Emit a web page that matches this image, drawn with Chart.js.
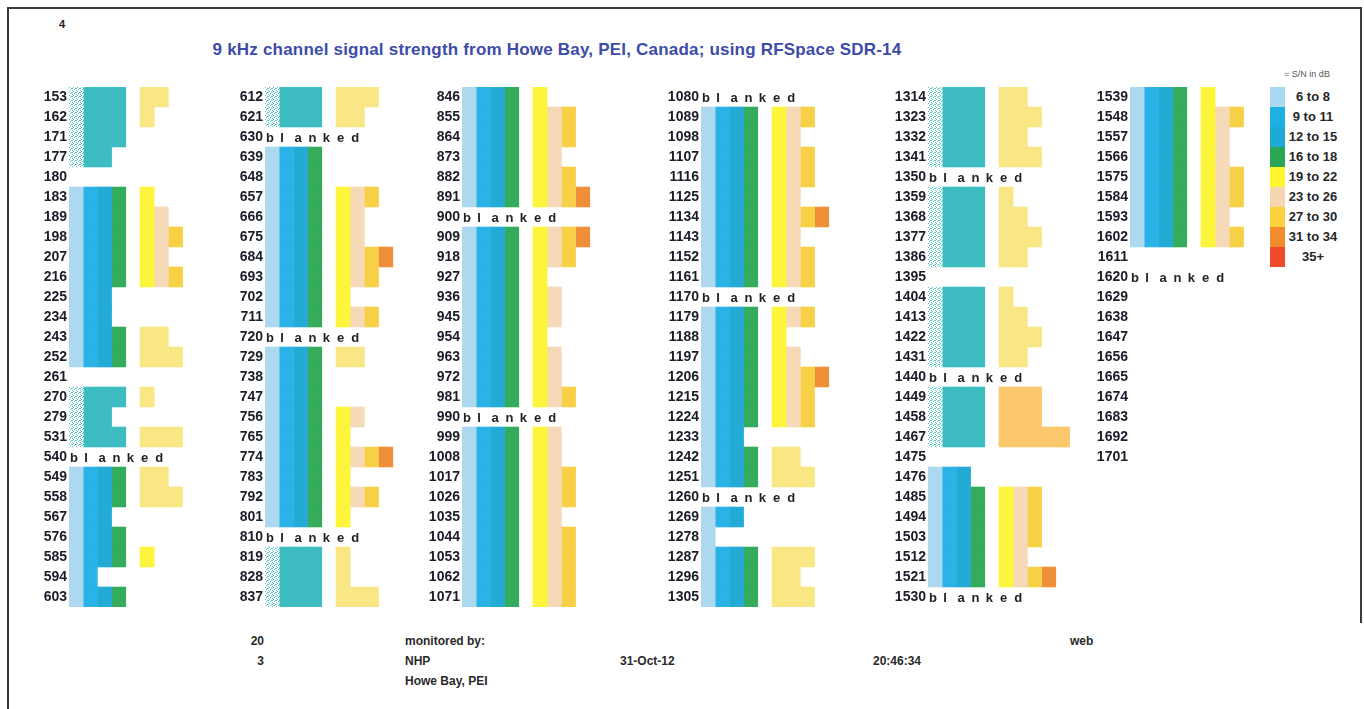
<!DOCTYPE html>
<html>
<head>
<meta charset="utf-8">
<script src="https://cdn.jsdelivr.net/npm/chart.js@4.4.0/dist/chart.umd.min.js"></script>
<style>
body { margin: 0; background: #fff; font-family: "Liberation Sans", Arial, sans-serif; }
#page { position: relative; width: 1364px; height: 709px; overflow: hidden; }
.abs { position: absolute; white-space: nowrap; }
.foot { font-size: 12px; font-weight: bold; color: #2a2a2a; line-height: 14px; }
.sw { position: absolute; left: 1270px; width: 15px; height: 20px; }
.lg { position: absolute; left: 1284px; width: 58px; height: 20px; line-height: 20px; text-align: center; font-size: 13px; font-weight: bold; color: #262626; }
</style>
</head>
<body>
<div id="page">
  <div class="abs" style="left:7px;top:7px;width:1355px;height:2px;background:#3a3a3a"></div>
  <div class="abs" style="left:7px;top:7px;width:2px;height:702px;background:#3a3a3a"></div>
  <div class="abs" style="left:1360px;top:7px;width:2px;height:616px;background:#3a3a3a"></div>

  <div class="abs" style="left:59px;top:18px;font-size:11px;font-weight:bold;color:#222">4</div>
  <div class="abs" style="left:157px;top:40px;width:800px;text-align:center;font-size:17px;letter-spacing:0.2px;font-weight:bold;color:#3c4ca8">9 kHz channel signal strength from Howe Bay, PEI, Canada; using RFSpace SDR-14</div>

  <div class="abs" style="left:1272px;top:69px;width:70px;text-align:center;font-size:9px;color:#555">= S/N in dB</div>
  <div id="legend"></div>

  <div class="abs foot" style="left:214px;top:634px;width:50px;text-align:right">20</div>
  <div class="abs foot" style="left:214px;top:654px;width:50px;text-align:right">3</div>
  <div class="abs foot" style="left:405px;top:634px">monitored by:</div>
  <div class="abs foot" style="left:405px;top:654px">NHP</div>
  <div class="abs foot" style="left:405px;top:674px">Howe Bay, PEI</div>
  <div class="abs foot" style="left:620px;top:654px">31-Oct-12</div>
  <div class="abs foot" style="left:873px;top:654px">20:46:34</div>
  <div class="abs foot" style="left:1070px;top:634px">web</div>
</div>
<script>
// S/N in dB per channel, null = blanked, 0 = nothing heard
const col1Freq = ['153','162','171','177','180','183','189','198','207','216','225','234','243','252','261','270','279','531','540','549','558','567','576','585','594','603'];
const col1Snr  = [24,20,17,13,0,20,24,28,24,28,13,13,24,28,0,20,13,28,null,24,28,13,17,20,10,17];

const col2Freq = ['612','621','630','639','648','657','666','675','684','693','702','711','720','729','738','747','756','765','774','783','792','801','810','819','828','837'];
const col2Snr  = [28,24,null,17,17,28,24,24,32,28,20,28,null,24,17,17,24,20,32,20,28,20,null,20,20,28];

const col3Freq = ['846','855','864','873','882','891','900','909','918','927','936','945','954','963','972','981','990','999','1008','1017','1026','1035','1044','1053','1062','1071'];
const col3Snr  = [20,28,28,24,28,32,null,32,28,20,24,24,20,24,24,28,null,24,24,28,28,24,28,28,28,28];

const col4Freq = ['1080','1089','1098','1107','1116','1125','1134','1143','1152','1161','1170','1179','1188','1197','1206','1215','1224','1233','1242','1251','1260','1269','1278','1287','1296','1305'];
const col4Snr  = [null,28,24,28,28,24,32,24,28,28,null,28,20,24,32,28,28,13,24,28,null,13,7,28,24,28];

const col5Freq = ['1314','1323','1332','1341','1350','1359','1368','1377','1386','1395','1404','1413','1422','1431','1440','1449','1458','1467','1475','1476','1485','1494','1503','1512','1521','1530'];
const col5Snr  = [24,28,24,28,null,20,24,28,24,0,20,24,28,24,null,28,28,36,0,13,28,28,28,24,32,null];

const col6Freq = ['1539','1548','1557','1566','1575','1584','1593','1602','1611','1620','1629','1638','1647','1656','1665','1674','1683','1692','1701'];
const col6Snr  = [20,28,24,24,28,28,24,28,0,null,0,0,0,0,0,0,0,0,0];

// rows drawn in the older teal style, and rows whose upper part is a washed colour
const tealRows = ['153','162','171','177','270','279','531','612','621','819','828','837','1314','1323','1332','1341','1359','1368','1377','1386','1404','1413','1422','1431','1449','1458','1467'];
const paleRows = ['243','252','549','558','729','1242','1251','1287','1296','1305'];
const warmRows = ['1449','1458','1467'];

const bandLabels = ['6 to 8','9 to 11','12 to 15','16 to 18','19 to 22','23 to 26','27 to 30','31 to 34','35+'];
const bandEdges = [6, 9, 12, 16, 19, 23, 27, 31, 35];

const bandColors = ['#acd8f0','#2ab3e6','#23abd6','#34ac5b','#fdf43c','#f6d9b6','#f8d046','#f08f3a','#ec4b2b'];
const legendColors = ['#a9d8f2','#1fb0e2','#1eaad8','#2aa655','#fdf62e','#f6d6b1','#fbd23c','#f28a2e','#ef4a2a'];
const TEAL = '#3dbcc1', PALE = '#f9e785', WARM = '#fcc86c';

// legend
const lg = document.getElementById('legend');
bandLabels.forEach((t, i) => {
  const s = document.createElement('div');
  s.className = 'sw'; s.style.top = (87 + i * 20) + 'px'; s.style.background = legendColors[i];
  lg.appendChild(s);
  const l = document.createElement('div');
  l.className = 'lg'; l.style.top = (87 + i * 20) + 'px'; l.textContent = t;
  lg.appendChild(l);
});

// dither for the teal rows
const pc = document.createElement('canvas');
pc.width = 4; pc.height = 4;
const pg = pc.getContext('2d');
pg.fillStyle = '#fff'; pg.fillRect(0, 0, 4, 4);
pg.fillStyle = '#5cc3c6';
[[0,0],[2,1],[1,2],[3,3],[3,1]].forEach(p => pg.fillRect(p[0], p[1], 1, 1));
const dither = pg.createPattern(pc, 'repeat');

function bandOf(db) {
  if (db === null) return null;
  return bandEdges.filter(e => db >= e).length;
}

// stack segments: 4 low bands, a gap, 5 high bands
const segNeed = [1, 2, 3, 4, 5, 5, 6, 7, 8, 9];
const segColor = [0, 1, 2, 3, -1, 4, 5, 6, 7, 8];

function colorFor(k, f) {
  if (segColor[k] < 0) return 'rgba(0,0,0,0)';
  const teal = tealRows.includes(f);
  if (k < 4 && teal) return k === 0 ? dither : TEAL;
  if (k >= 5 && (teal || paleRows.includes(f))) return warmRows.includes(f) ? WARM : PALE;
  return bandColors[segColor[k]];
}

const AXIS_W = 40, UNIT = 14.2, TOP = 87, ROW = 20, PAD = 12;

const blankedText = {
  id: 'blankedText',
  afterDatasetsDraw(chart, args, opts) {
    const c = chart.ctx, xs = chart.scales.x, ys = chart.scales.y;
    c.save();
    c.font = 'bold 13px "Liberation Sans", Arial, sans-serif';
    c.fillStyle = '#222';
    c.textBaseline = 'middle';
    c.textAlign = 'left';
    opts.snr.forEach((v, i) => {
      if (v !== null) return;
      const y = ys.getPixelForValue(i);
      'blanked'.split('').forEach((ch, j) => c.fillText(ch, xs.getPixelForValue(j) + 1, y + 1));
    });
    c.restore();
  }
};

function makeColumn(start, freqs, snr) {
  const lv = snr.map(bandOf);
  const cv = document.createElement('canvas');
  cv.width = AXIS_W + Math.round(UNIT * 10);
  cv.height = freqs.length * ROW + PAD * 2;
  cv.style.position = 'absolute';
  cv.style.left = (start - AXIS_W) + 'px';
  cv.style.top = (TOP - PAD) + 'px';
  document.getElementById('page').appendChild(cv);

  const datasets = segNeed.map((need, k) => ({
    data: lv.map(l => (l !== null && l >= need) ? 1 : null),
    backgroundColor: ctx => colorFor(k, freqs[ctx.dataIndex]),
    borderWidth: 0,
    borderSkipped: false,
    inflateAmount: 0.3,
    barPercentage: 1,
    categoryPercentage: 1,
    stack: 's'
  }));

  new Chart(cv, {
    type: 'bar',
    data: { labels: freqs, datasets: datasets },
    plugins: [blankedText],
    options: {
      indexAxis: 'y',
      responsive: false,
      animation: false,
      layout: { padding: { top: PAD, bottom: PAD, left: 0, right: 0 } },
      plugins: {
        legend: { display: false },
        tooltip: { enabled: false },
        blankedText: { snr: snr }
      },
      scales: {
        x: { stacked: true, min: 0, max: 10, display: false },
        y: {
          stacked: true,
          grid: { display: false, drawTicks: false },
          border: { display: false },
          ticks: {
            autoSkip: false,
            padding: 2,
            color: '#1c1c2a',
            font: { family: '"Liberation Sans", Arial, sans-serif', weight: 'bold', size: 14 }
          },
          afterFit: s => { s.width = AXIS_W; }
        }
      }
    }
  });
}

makeColumn(69, col1Freq, col1Snr);
makeColumn(265, col2Freq, col2Snr);
makeColumn(462, col3Freq, col3Snr);
makeColumn(701, col4Freq, col4Snr);
makeColumn(928, col5Freq, col5Snr);
makeColumn(1130, col6Freq, col6Snr);
</script>
</body>
</html>
